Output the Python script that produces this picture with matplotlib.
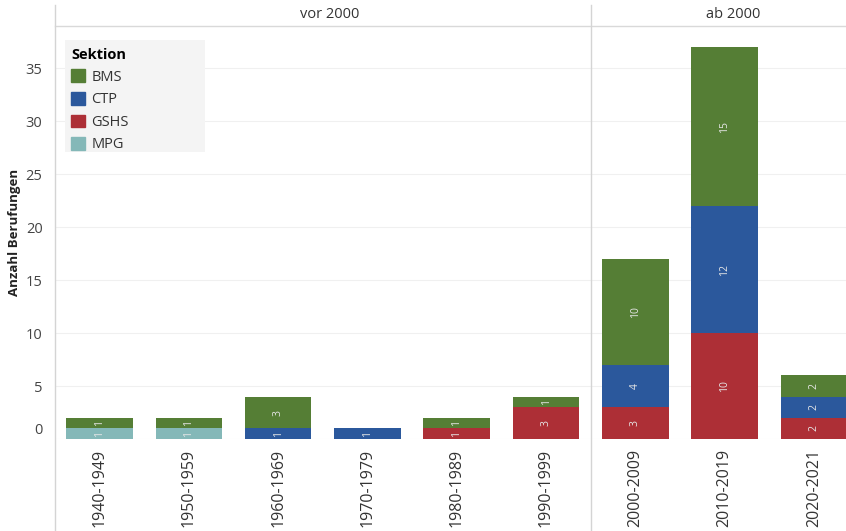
import numpy as np
import matplotlib.pyplot as plt
from matplotlib.lines import Line2D
from matplotlib.patches import Rectangle
from matplotlib.transforms import ScaledTranslation

plt.rcParams['font.family'] = ['Open Sans', 'DejaVu Sans']

perioden = ['1940-1949', '1950-1959', '1960-1969', '1970-1979', '1980-1989',
            '1990-1999', '2000-2009', '2010-2019', '2020-2021']
# Berufungen je Sektion (von unten nach oben gestapelt)
mpg = [1, 1, 0, 0, 0, 0, 0, 0, 0]
gshs = [0, 0, 0, 0, 1, 3, 3, 10, 2]
ctp = [0, 0, 1, 1, 0, 0, 4, 12, 2]
bms = [1, 1, 3, 0, 1, 1, 10, 15, 2]

sektionen = ['BMS', 'CTP', 'GSHS', 'MPG']
farben = {'BMS': '#557e35', 'CTP': '#2b589c', 'GSHS': '#ad2f36', 'MPG': '#84b8b8'}
stapel = [('MPG', mpg), ('GSHS', gshs), ('CTP', ctp), ('BMS', bms)]

W, H = 846, 531
fig = plt.figure(figsize=(W / 100, H / 100), dpi=100)
x0, x1, ytop, ybot = 55, 846, 26, 439
ax = fig.add_axes([x0 / W, (H - ybot) / H, (x1 - x0) / W, (ybot - ytop) / H])

x = np.arange(len(perioden))
unten = np.zeros(len(perioden))
for name, werte in stapel:
    werte = np.array(werte, dtype=float)
    ax.bar(x, werte, width=0.745, bottom=unten, color=farben[name], linewidth=0, zorder=3)
    for xi, b, v in zip(x, unten, werte):
        if v > 0:
            ax.text(xi, b + v / 2, f'{int(v)}', rotation=90, ha='center', va='center',
                    fontsize=7.5, color='#e6e6e6', zorder=4)
    unten += werte

ax.set_xlim(-0.5, 8.36)
ax.set_ylim(0, 39)
ax.set_yticks(range(0, 40, 5))
ax.set_xticks(x)
ax.set_xticklabels(perioden, rotation=90, fontsize=11.5, color='#333333')
ax.tick_params(axis='both', length=0, pad=7)
ax.tick_params(axis='y', labelsize=10.5, labelcolor='#444444', pad=9)
# die Null sitzt etwas oberhalb der Grundlinie
null = ax.yaxis.get_major_ticks()[0].label1
null.set_transform(null.get_transform() + ScaledTranslation(0, 0.11, fig.dpi_scale_trans))
ax.grid(axis='y', color='#f0f0f0', linewidth=0.8, zorder=0)
for s in ax.spines.values():
    s.set_visible(False)

ax.set_ylabel('Anzahl Berufungen', fontsize=9.5, fontweight='bold', color='#222222', labelpad=3)

# Kopfzeile mit den beiden Zeitbereichen
fig.add_artist(Line2D([x0 / W, 1], [(H - ytop) / H] * 2, color='#d9d9d9', linewidth=1))
xdiv = 591
fig.add_artist(Line2D([x0 / W, x0 / W], [0, (H - 5) / H], color='#d4d4d4', linewidth=1))
fig.add_artist(Line2D([xdiv / W, xdiv / W], [0, (H - 5) / H], color='#d4d4d4', linewidth=1))
fig.text(330 / W, (H - 14) / H, 'vor 2000', ha='center', va='center', fontsize=10.5, color='#333333')
fig.text(733 / W, (H - 14) / H, 'ab 2000', ha='center', va='center', fontsize=10.5, color='#333333')

# Legende mit hellgrauem Hintergrund
ax.add_patch(Rectangle((65 / W, (H - 152) / H), 140 / W, 112 / H, transform=fig.transFigure,
                       facecolor='#f4f4f4', edgecolor='none', zorder=5, clip_on=False))
handles = [plt.Rectangle((0, 0), 1, 1, color=farben[s]) for s in sektionen]
leg = ax.legend(handles, sektionen, title='Sektion', loc='upper left',
                bbox_to_anchor=(3 / (x1 - x0), (ybot - 35) / (ybot - ytop)), frameon=False,
                fontsize=10.5, handlelength=0.95, handleheight=0.95, handletextpad=0.45,
                labelspacing=0.5, borderpad=0.4, alignment='left')
leg.set_zorder(6)
leg.get_title().set_fontweight('bold')
leg.get_title().set_fontsize(10.5)
for t in leg.get_texts():
    t.set_color('#333333')

fig.savefig('out.png', dpi=100)
